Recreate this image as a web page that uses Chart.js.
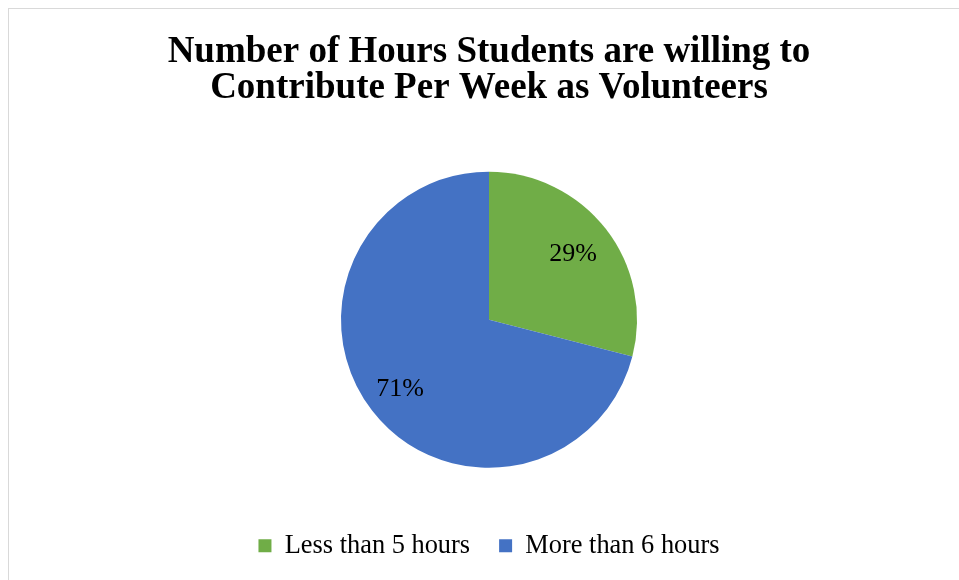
<!DOCTYPE html>
<html>
<head>
<meta charset="utf-8">
<script src="https://cdn.jsdelivr.net/npm/chart.js@4.4.1/dist/chart.umd.min.js"></script>
<style>
  html, body { margin: 0; padding: 0; background: #fff; overflow: hidden; width: 959px; height: 580px; }
  #frame { position: absolute; left: 8px; top: 8px; width: 962px; height: 600px; border: 1px solid #d9d9d9; box-sizing: border-box; }
  #wrap { position: absolute; left: 0; top: 0; width: 960px; height: 571px; }
</style>
</head>
<body>
<div id="frame"><div id="wrap"><canvas id="c"></canvas></div></div>
<script>
const titleLines = ["Number of Hours Students are willing to", "Contribute Per Week as Volunteers"];
const categories = ["Less than 5 hours", "More than 6 hours"];
const values = [29, 71];
const valueLabels = ["29%", "71%"];
const colors = ["#70AD47", "#4472C4"];

const labelPlugin = {
  id: 'sliceLabels',
  afterDatasetsDraw(chart, args, opts) {
    const ctx = chart.ctx;
    const meta = chart.getDatasetMeta(0);
    ctx.save();
    ctx.font = opts.font;
    ctx.fillStyle = '#000';
    ctx.textAlign = 'center';
    ctx.textBaseline = 'middle';
    meta.data.forEach((arc, i) => {
      const p = arc.getProps(['x','y','startAngle','endAngle','outerRadius'], true);
      const mid = (p.startAngle + p.endAngle) / 2;
      const r = p.outerRadius * opts.frac[i];
      ctx.fillText(valueLabels[i], p.x + Math.cos(mid) * r, p.y + Math.sin(mid) * r);
    });
    ctx.restore();
  }
};

new Chart(document.getElementById('c'), {
  type: 'pie',
  data: {
    labels: categories,
    datasets: [{ data: values, backgroundColor: colors, borderWidth: 0, radius: 148 }]
  },
  options: {
    responsive: true,
    maintainAspectRatio: false,
    animation: false,
    layout: { padding: { top: 0, bottom: 11, left: 0, right: 0 } },
    plugins: {
      tooltip: { enabled: false },
      title: {
        display: true,
        text: titleLines,
        color: '#000',
        font: { family: 'Liberation Serif', size: 37, weight: 'bold', lineHeight: 0.973 },
        padding: { top: 25, bottom: 30 }
      },
      legend: {
        display: true,
        position: 'bottom',
        labels: {
          color: '#000',
          font: { family: 'Liberation Serif', size: 26.4 },
          boxWidth: 13,
          boxHeight: 13,
          padding: 29
        }
      },
      sliceLabels: { font: '26px "Liberation Serif"', frac: [0.72, 0.76] }
    }
  },
  plugins: [labelPlugin]
});
</script>
</body>
</html>
